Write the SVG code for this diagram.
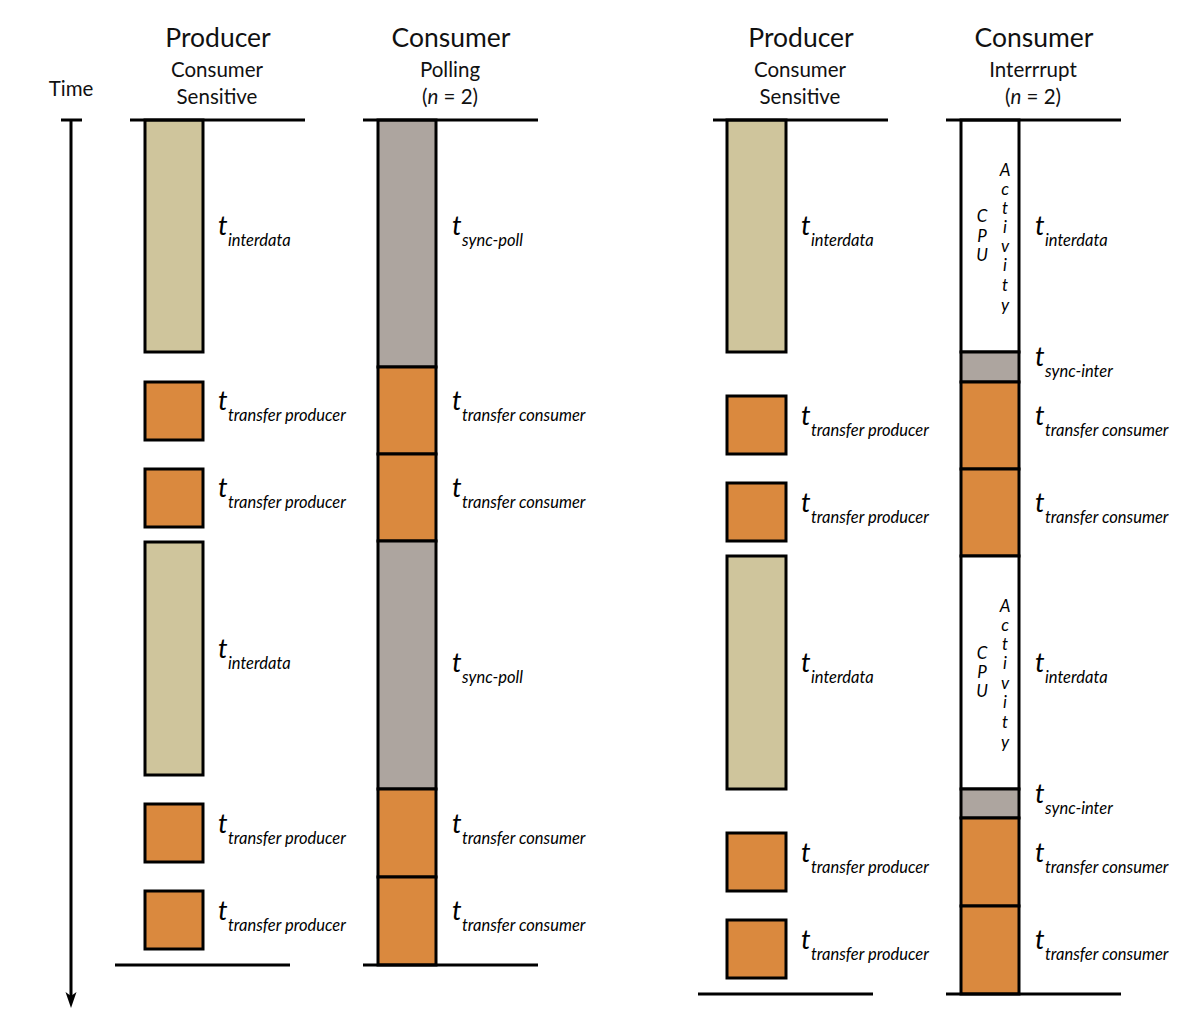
<svg xmlns="http://www.w3.org/2000/svg" width="1194" height="1036" viewBox="0 0 1194 1036">
<style>
.tan{fill:#CFC59C;stroke:#000;stroke-width:3}
.gray{fill:#ADA59F;stroke:#000;stroke-width:3}
.org{fill:#DA893E;stroke:#000;stroke-width:3}
.wht{fill:#FFFFFF;stroke:#000;stroke-width:3}
.ln{stroke:#000;stroke-width:3;fill:none}
.h1{font-family:Lato,"Liberation Sans",sans-serif;font-size:26.5px;fill:#111;text-anchor:middle}
.h2{font-family:Lato,"Liberation Sans",sans-serif;font-size:20.5px;fill:#111;text-anchor:middle}
.t{font-family:Lato,"Liberation Sans",sans-serif;font-size:27px;font-style:italic;fill:#000}
.sub{font-size:16.5px}
.cpu{font-family:Lato,"Liberation Sans",sans-serif;font-size:17px;font-style:italic;fill:#000;text-anchor:middle}
</style>
<rect width="1194" height="1036" fill="#fff"/>

<g id="headers">
<text class="h2" x="71" y="96">Time</text>
<text class="h1" x="218" y="47">Producer</text>
<text class="h2" x="217" y="77">Consumer</text>
<text class="h2" x="217" y="104">Sensitive</text>
<text class="h1" x="451" y="47">Consumer</text>
<text class="h2" x="450" y="77">Polling</text>
<text class="h2" x="450" y="104">(<tspan font-style="italic">n</tspan> = 2)</text>
<text class="h1" x="801" y="47">Producer</text>
<text class="h2" x="800" y="77">Consumer</text>
<text class="h2" x="800" y="104">Sensitive</text>
<text class="h1" x="1034" y="47">Consumer</text>
<text class="h2" x="1033" y="77">Interrrupt</text>
<text class="h2" x="1033" y="104">(<tspan font-style="italic">n</tspan> = 2)</text>
</g>

<g id="connectors">
<line class="ln" x1="61" y1="120" x2="82" y2="120"/>
<line class="ln" x1="71" y1="120" x2="71" y2="1000"/>
<path d="M65.5,992 L71,996 L76.5,992 L71,1008 Z" fill="#000"/>
</g>

<g id="col1">
<g id="c1n1"><rect class="tan" x="145" y="120" width="58" height="232"/><text class="t" x="218" y="235">t<tspan class="sub" x="228" dy="11">interdata</tspan></text></g>
<g id="c1n2"><rect class="org" x="145" y="382" width="58" height="58"/><text class="t" x="218" y="410">t<tspan class="sub" x="228" dy="11">transfer producer</tspan></text></g>
<g id="c1n3"><rect class="org" x="145" y="469" width="58" height="58"/><text class="t" x="218" y="497">t<tspan class="sub" x="228" dy="11">transfer producer</tspan></text></g>
<g id="c1n4"><rect class="tan" x="145" y="542" width="58" height="233"/><text class="t" x="218" y="658">t<tspan class="sub" x="228" dy="11">interdata</tspan></text></g>
<g id="c1n5"><rect class="org" x="145" y="804" width="58" height="58"/><text class="t" x="218" y="833">t<tspan class="sub" x="228" dy="11">transfer producer</tspan></text></g>
<g id="c1n6"><rect class="org" x="145" y="891" width="58" height="58"/><text class="t" x="218" y="920">t<tspan class="sub" x="228" dy="11">transfer producer</tspan></text></g>
<line class="ln" x1="130" y1="120" x2="305" y2="120"/>
<line class="ln" x1="115" y1="965" x2="290" y2="965"/>
</g>

<g id="col2">
<g id="c2n1"><rect class="gray" x="378" y="120" width="58" height="247"/><text class="t" x="452" y="235">t<tspan class="sub" x="462" dy="11">sync-poll</tspan></text></g>
<g id="c2n2"><rect class="org" x="378" y="367" width="58" height="87"/><text class="t" x="452" y="410">t<tspan class="sub" x="462" dy="11">transfer consumer</tspan></text></g>
<g id="c2n3"><rect class="org" x="378" y="454" width="58" height="87"/><text class="t" x="452" y="497">t<tspan class="sub" x="462" dy="11">transfer consumer</tspan></text></g>
<g id="c2n4"><rect class="gray" x="378" y="541" width="58" height="248"/><text class="t" x="452" y="672">t<tspan class="sub" x="462" dy="11">sync-poll</tspan></text></g>
<g id="c2n5"><rect class="org" x="378" y="789" width="58" height="88"/><text class="t" x="452" y="833">t<tspan class="sub" x="462" dy="11">transfer consumer</tspan></text></g>
<g id="c2n6"><rect class="org" x="378" y="877" width="58" height="88"/><text class="t" x="452" y="920">t<tspan class="sub" x="462" dy="11">transfer consumer</tspan></text></g>
<line class="ln" x1="363" y1="120" x2="538" y2="120"/>
<line class="ln" x1="363" y1="965" x2="538" y2="965"/>
</g>

<g id="col3">
<g id="c3n1"><rect class="tan" x="727" y="120" width="59" height="232"/><text class="t" x="801" y="235">t<tspan class="sub" x="811" dy="11">interdata</tspan></text></g>
<g id="c3n2"><rect class="org" x="727" y="396" width="59" height="58"/><text class="t" x="801" y="425">t<tspan class="sub" x="811" dy="11">transfer producer</tspan></text></g>
<g id="c3n3"><rect class="org" x="727" y="483" width="59" height="58"/><text class="t" x="801" y="512">t<tspan class="sub" x="811" dy="11">transfer producer</tspan></text></g>
<g id="c3n4"><rect class="tan" x="727" y="556" width="59" height="233"/><text class="t" x="801" y="672">t<tspan class="sub" x="811" dy="11">interdata</tspan></text></g>
<g id="c3n5"><rect class="org" x="727" y="833" width="59" height="58"/><text class="t" x="801" y="862">t<tspan class="sub" x="811" dy="11">transfer producer</tspan></text></g>
<g id="c3n6"><rect class="org" x="727" y="920" width="59" height="58"/><text class="t" x="801" y="949">t<tspan class="sub" x="811" dy="11">transfer producer</tspan></text></g>
<line class="ln" x1="713" y1="120" x2="888" y2="120"/>
<line class="ln" x1="698" y1="994" x2="873" y2="994"/>
</g>

<g id="col4">
<g id="c4n1"><rect class="wht" x="961" y="120" width="58" height="232"/>
<text class="cpu" x="982" y="222">C<tspan x="982" dy="19.5">P</tspan><tspan x="982" dy="19.5">U</tspan></text>
<text class="cpu" x="1005" y="176">A<tspan x="1005" dy="19">c</tspan><tspan x="1005" dy="19">t</tspan><tspan x="1005" dy="19">i</tspan><tspan x="1005" dy="19">v</tspan><tspan x="1005" dy="19">i</tspan><tspan x="1005" dy="20">t</tspan><tspan x="1005" dy="20">y</tspan></text>
<text class="t" x="1035" y="235">t<tspan class="sub" x="1045" dy="11">interdata</tspan></text></g>
<g id="c4n2"><rect class="gray" x="961" y="352" width="58" height="30"/><text class="t" x="1035" y="366">t<tspan class="sub" x="1045" dy="11">sync-inter</tspan></text></g>
<g id="c4n3"><rect class="org" x="961" y="382" width="58" height="87"/><text class="t" x="1035" y="425">t<tspan class="sub" x="1045" dy="11">transfer consumer</tspan></text></g>
<g id="c4n4"><rect class="org" x="961" y="469" width="58" height="87"/><text class="t" x="1035" y="512">t<tspan class="sub" x="1045" dy="11">transfer consumer</tspan></text></g>
<g id="c4n5"><rect class="wht" x="961" y="556" width="58" height="233"/>
<text class="cpu" x="982" y="659">C<tspan x="982" dy="19">P</tspan><tspan x="982" dy="19">U</tspan></text>
<text class="cpu" x="1005" y="612">A<tspan x="1005" dy="19">c</tspan><tspan x="1005" dy="19">t</tspan><tspan x="1005" dy="19">i</tspan><tspan x="1005" dy="20">v</tspan><tspan x="1005" dy="19">i</tspan><tspan x="1005" dy="20">t</tspan><tspan x="1005" dy="20">y</tspan></text>
<text class="t" x="1035" y="672">t<tspan class="sub" x="1045" dy="11">interdata</tspan></text></g>
<g id="c4n6"><rect class="gray" x="961" y="789" width="58" height="29"/><text class="t" x="1035" y="803">t<tspan class="sub" x="1045" dy="11">sync-inter</tspan></text></g>
<g id="c4n7"><rect class="org" x="961" y="818" width="58" height="88"/><text class="t" x="1035" y="862">t<tspan class="sub" x="1045" dy="11">transfer consumer</tspan></text></g>
<g id="c4n8"><rect class="org" x="961" y="906" width="58" height="88"/><text class="t" x="1035" y="949">t<tspan class="sub" x="1045" dy="11">transfer consumer</tspan></text></g>
<line class="ln" x1="946" y1="120" x2="1121" y2="120"/>
<line class="ln" x1="946" y1="994" x2="1121" y2="994"/>
</g>
</svg>
